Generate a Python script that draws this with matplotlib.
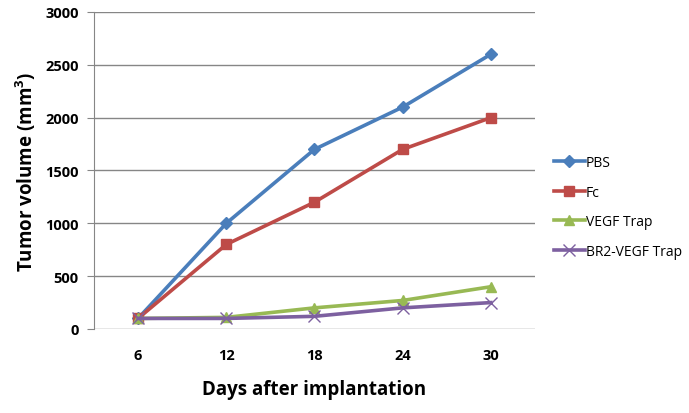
import matplotlib
matplotlib.use('Agg')
import matplotlib.pyplot as plt

# data
days = ['6', '12', '18', '24', '30']
pbs = [100, 1000, 1700, 2100, 2600]
fc = [100, 800, 1200, 1700, 2000]
vegf_trap = [100, 110, 200, 270, 400]
br2_vegf_trap = [100, 100, 120, 200, 250]

plt.rcParams['font.family'] = ['Open Sans', 'DejaVu Sans']

fig = plt.figure(figsize=(6.89, 4.14), dpi=100)
ax = fig.add_axes([0.1364, 0.2029, 0.64, 0.7657])

x = range(len(days))
ax.plot(x, pbs, color='#4A7EBB', lw=2.6, marker='D', ms=6, label='PBS')
ax.plot(x, fc, color='#BE4B48', lw=2.6, marker='s', ms=7, label='Fc')
ax.plot(x, vegf_trap, color='#98B954', lw=2.6, marker='^', ms=7, label='VEGF Trap')
ax.plot(x, br2_vegf_trap, color='#7D60A0', lw=2.6, marker='x', ms=8, mew=1, label='BR2-VEGF Trap')

ax.set_xlim(-0.5, len(days) - 0.5)
ax.set_ylim(0, 3000)
ax.set_yticks(range(0, 3001, 500))
ax.set_xticks(list(x))
ax.set_xticklabels(days)
ax.grid(axis='y', color='#868686', lw=1)
ax.set_axisbelow(True)

for s in ['top', 'right', 'bottom']:
    ax.spines[s].set_visible(False)
ax.spines['left'].set_color('#868686')
ax.tick_params(axis='y', length=5, color='#868686', labelsize=10.5, pad=6)
ax.tick_params(axis='x', length=0, labelsize=10.5, pad=14)
for lbl in ax.get_xticklabels() + ax.get_yticklabels():
    lbl.set_fontweight('bold')

ax.set_xlabel('Days after implantation', fontsize=13.5, fontweight='bold', labelpad=12)
ax.set_ylabel('Tumor volume (mm$^\\mathregular{3}$)', fontsize=13.5, fontweight='bold', labelpad=5)

ax.legend(loc='center left', bbox_to_anchor=(1.015, 0.385), frameon=False, fontsize=10,
          handlelength=2.2, handletextpad=0.1, labelspacing=1.05)

fig.savefig('out.png', dpi=100)
